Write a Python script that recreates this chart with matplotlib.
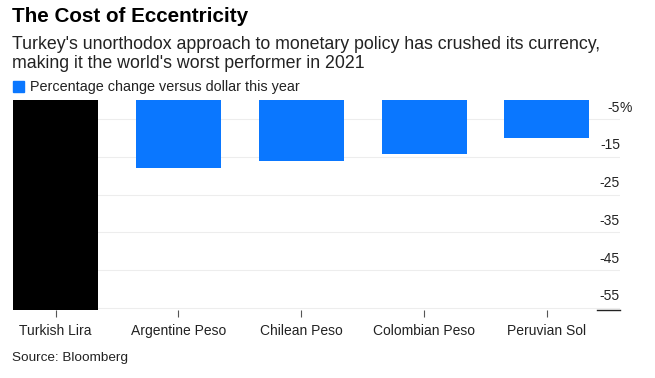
import matplotlib.pyplot as plt
import numpy as np

plt.rcParams['font.family'] = ['Liberation Sans', 'DejaVu Sans']

currencies = ["Turkish Lira", "Argentine Peso", "Chilean Peso", "Colombian Peso", "Peruvian Sol"]
change = [-55.6, -18.0, -16.0, -14.2, -9.9]
bar_colors = ["#000000", "#0a77ff", "#0a77ff", "#0a77ff", "#0a77ff"]
yticks = [-5, -15, -25, -35, -45, -55]

fig = plt.figure(figsize=(6.55, 3.78), dpi=100)
W, H = 655, 378
ax = fig.add_axes([13 / W, 1 - 310 / H, (620 - 13) / W, (310 - 100.4) / H])

x = np.arange(len(currencies))
ax.bar(x, change, width=0.692, color=bar_colors, zorder=2)

ax.set_xlim(-0.346, 4.595)
ax.set_ylim(-55.6, 0)

for v in yticks:
    ax.axhline(v, color="#ededed", lw=0.8, zorder=1)
    ax.text(1.0, v + 1.2, str(v), transform=ax.get_yaxis_transform(),
            ha="right", va="bottom", fontsize=10, color="#222222")
ax.text(1.0, -5 + 1.2, "%", transform=ax.get_yaxis_transform(),
        ha="left", va="bottom", fontsize=10, color="#222222")
ax.axhline(-55.6, xmin=(597 - 13) / (620 - 13), xmax=1, color="#222222",
           lw=1.0, zorder=3, clip_on=False)

ax.set_yticks([])
ax.set_xticks(x)
ax.set_xticklabels(currencies, fontsize=10, color="#222222")
ax.tick_params(axis="x", length=5, width=0.8, color="#555555", pad=5)
for s in ax.spines.values():
    s.set_visible(False)

fig.text(12 / W, 1 - 17 / H, "The Cost of Eccentricity", fontsize=14.9,
         fontweight="bold", va="center", ha="left", color="#000000")
fig.text(12 / W, 1 - 54 / H,
         "Turkey's unorthodox approach to monetary policy has crushed its currency,\n"
         "making it the world's worst performer in 2021",
         fontsize=12.8, va="center", ha="left", color="#222222", linespacing=1.12)
fig.patches.append(plt.Rectangle((13 / W, 1 - 92 / H), 11 / W, 11 / H,
                                 transform=fig.transFigure, color="#0a77ff"))
fig.text(30 / W, 1 - 87 / H, "Percentage change versus dollar this year",
         fontsize=10.4, va="center", ha="left", color="#222222")
fig.text(12 / W, 1 - 358 / H, "Source: Bloomberg", fontsize=9.7,
         va="center", ha="left", color="#222222")

fig.savefig("out.png", dpi=100)
